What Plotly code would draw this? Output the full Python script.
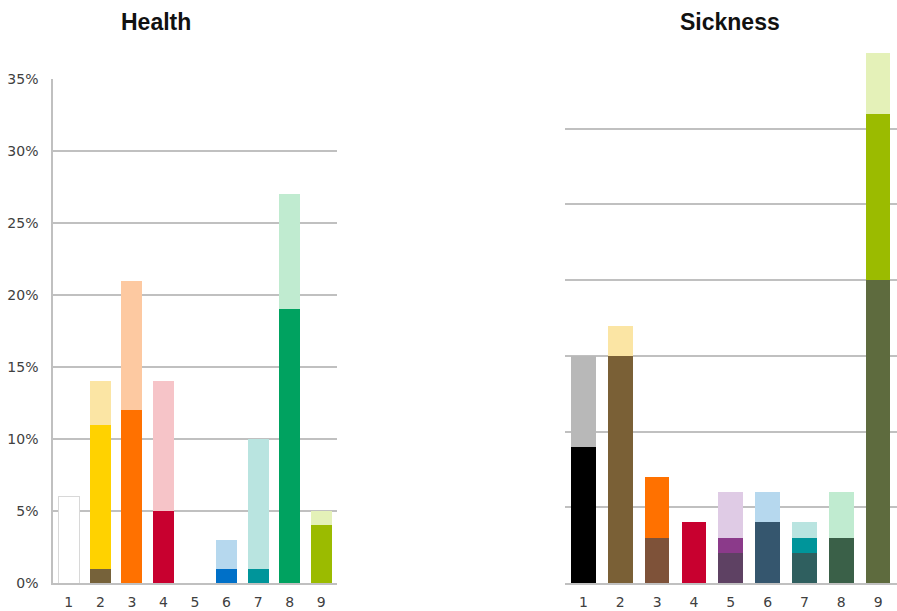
import plotly.graph_objects as go

categories = ["1", "2", "3", "4", "5", "6", "7", "8", "9"]

# Health (left) stacked layers, % values
health_bottom = [6, 1, 12, 5, 0, 1, 1, 19, 4]
health_middle = [0, 10, 0, 0, 0, 0, 0, 0, 0]
health_top = [0, 3, 9, 9, 0, 2, 9, 8, 1]

health_bottom_colors = ["#ffffff", "#76623a", "#ff7100", "#c8002f", "#ffffff",
                        "#0070c8", "#00959a", "#00a260", "#9bbb00"]
health_middle_colors = ["#ffffff", "#ffd200", "#ffffff", "#ffffff", "#ffffff",
                        "#ffffff", "#ffffff", "#ffffff", "#ffffff"]
health_top_colors = ["#ffffff", "#fbe5a4", "#fdc9a1", "#f6c4c8", "#ffffff",
                     "#b6d8ee", "#b9e4e0", "#c0ebd0", "#e4f1b8"]

# Sickness (right) stacked layers, % values
sick_bottom = [9, 15, 3, 4, 2, 4, 2, 3, 20]
sick_middle = [0, 0, 0, 0, 1, 0, 1, 0, 11]
sick_top = [6, 2, 4, 0, 3, 2, 1, 3, 4]

sick_bottom_colors = ["#000000", "#7a6036", "#7e5239", "#c8002f", "#5e4163",
                      "#35566e", "#2f5f5f", "#3a6048", "#5e6b3e"]
sick_middle_colors = ["#ffffff", "#ffffff", "#ffffff", "#ffffff", "#8b3a8a",
                      "#ffffff", "#00959a", "#ffffff", "#9bbb00"]
sick_top_colors = ["#b8b8b8", "#fbe5a4", "#ff7100", "#ffffff", "#dfcbe5",
                   "#b6d8ee", "#b9e4e0", "#c0ebd0", "#e4f1b8"]

y_ticks = [0, 5, 10, 15, 20, 25, 30, 35]
y_tick_labels = ["0%", "5%", "10%", "15%", "20%", "25%", "30%", "35%"]

W, H = 897, 611
fig = go.Figure()

outline_w = [1, 0, 0, 0, 0, 0, 0, 0, 0]
outline_c = ["#d8d8d8"] + ["rgba(0,0,0,0)"] * 8

layers_h = [(health_bottom, health_bottom_colors, True),
            (health_middle, health_middle_colors, False),
            (health_top, health_top_colors, False)]
for vals, cols, first in layers_h:
    fig.add_trace(go.Bar(x=categories, y=vals, xaxis="x", yaxis="y",
                         marker=dict(color=cols,
                                     line=dict(width=outline_w if first else 0,
                                               color=outline_c if first else "rgba(0,0,0,0)")),
                         showlegend=False, hoverinfo="skip"))

for vals, cols in [(sick_bottom, sick_bottom_colors),
                   (sick_middle, sick_middle_colors),
                   (sick_top, sick_top_colors)]:
    fig.add_trace(go.Bar(x=categories, y=vals, xaxis="x2", yaxis="y2",
                         marker=dict(color=cols, line=dict(width=0)),
                         showlegend=False, hoverinfo="skip"))

grid = "#c0c0c0"
tickfont = dict(family="DejaVu Sans", size=14, color="#404040")

fig.update_layout(
    width=W, height=H,
    margin=dict(l=0, r=0, t=0, b=0, pad=0, autoexpand=False),
    paper_bgcolor="white", plot_bgcolor="white",
    barmode="stack", bargap=0.33,
    xaxis=dict(domain=[53 / W, 337 / W], anchor="y", showgrid=False,
               showline=True, linecolor=grid, linewidth=1.5, ticks="",
               tickfont=tickfont, ticklabelstandoff=5, fixedrange=True,
               automargin=False),
    yaxis=dict(domain=[(H - 583) / H, (H - 79) / H], anchor="x",
               range=[0, 35], tickvals=y_ticks, ticktext=y_tick_labels,
               showgrid=True, gridcolor=grid, gridwidth=1.5,
               showline=True, linecolor=grid, linewidth=1.5,
               zeroline=False, ticks="", tickfont=tickfont,
               ticklabelstandoff=10, fixedrange=True, automargin=False),
    xaxis2=dict(domain=[565 / W, 0.9995], anchor="y2", showgrid=False,
                showline=True, linecolor=grid, linewidth=1.5, ticks="",
                tickfont=tickfont, ticklabelstandoff=5, fixedrange=True,
                automargin=False),
    yaxis2=dict(domain=[(H - 583) / H, (H - 53) / H], anchor="x2",
                range=[0, 35], tickvals=y_ticks, showticklabels=False,
                showgrid=True, gridcolor=grid, gridwidth=1.5,
                showline=False, zeroline=False, ticks="", fixedrange=True,
                automargin=False),
    annotations=[
        dict(text="<b>Health</b>", x=156 / W, y=(H - 22) / H, xref="paper", yref="paper",
             showarrow=False, xanchor="center", yanchor="middle",
             font=dict(family="Liberation Sans", size=23, color="#111111")),
        dict(text="<b>Sickness</b>", x=730 / W, y=(H - 22) / H, xref="paper", yref="paper",
             showarrow=False, xanchor="center", yanchor="middle",
             font=dict(family="Liberation Sans", size=23, color="#111111")),
    ],
)

fig.write_html("out.html")
